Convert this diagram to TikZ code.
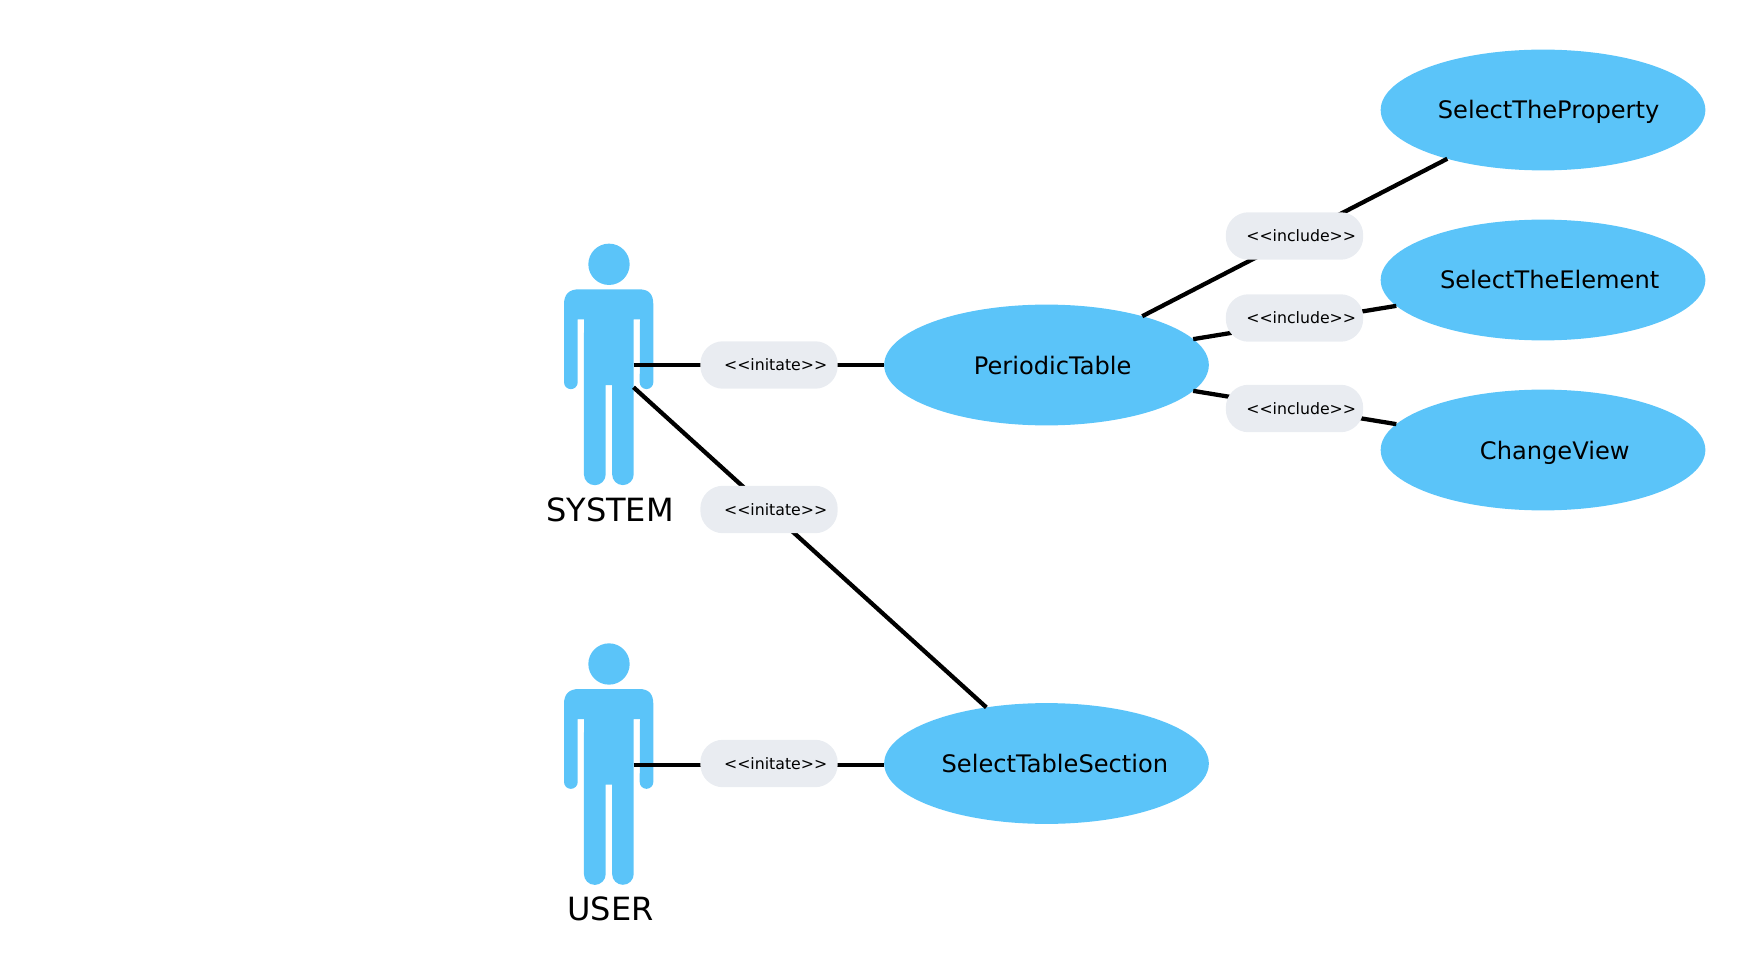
\documentclass[tikz,border=0pt]{standalone}
\usepackage{fontspec}
\setmainfont{DejaVu Sans}
\usetikzlibrary{shapes.geometric}
\definecolor{ublue}{HTML}{5BC4F9}
\definecolor{upill}{HTML}{E9ECF1}
\tikzset{
  usecase/.style={ellipse,fill=ublue,minimum width=243.5pt,minimum height=90.6pt,inner sep=0pt,outer sep=0pt},
  uctext/.style={anchor=base,inner sep=0pt,font=\fontsize{18.1}{20}\selectfont},
  pill/.style={rectangle,fill=upill,rounded corners=17pt,minimum width=103pt,minimum height=35.6pt,inner sep=0pt,outer sep=0pt,font=\fontsize{11.8}{13}\selectfont},
  conn/.style={line width=3.2pt,black},
  actorname/.style={font=\fontsize{24}{28}\selectfont,inner sep=0pt},
  actorfig/.pic={
    \fill[ublue] (0,0) circle[radius=15.5pt];
    \fill[ublue]
      (-30,25) -- (30,25)
      .. controls (40,25) and (44.3,30) .. (44.3,40)
      -- (44.3,118) arc[start angle=0,end angle=-180,x radius=6.8,y radius=-6.8]
      -- (31,55) -- (24.7,55) -- (24.7,210)
      arc[start angle=0,end angle=-180,x radius=10.8,y radius=-10.8]
      -- (3,120.7) -- (-3.3,120.7) -- (-3.3,210)
      arc[start angle=0,end angle=-180,x radius=10.9,y radius=-10.9]
      -- (-25,55) -- (-31.3,55) -- (-31.3,118)
      arc[start angle=0,end angle=-180,x radius=6.85,y radius=-6.85]
      -- (-45,40) .. controls (-45,30) and (-40,25) .. (-30,25) -- cycle;
    \coordinate (-mid) at (24.5,101);
    \coordinate (-low) at (24.5,123);
  }
}
\begin{document}
\begin{tikzpicture}[x=0.75pt,y=-0.75pt]
\useasboundingbox (0,0) rectangle (1755,980);
\pic (sys) at (609,264.3) {actorfig};
\pic (usr) at (609,664) {actorfig};
\node[actorname] (sysname) at (610,510) {SYSTEM};
\node[actorname] (usrname) at (610.5,909) {USER};
\node[usecase] (pt) at (1046.5,365) {};
\node[usecase] (sts) at (1046.5,763.5) {};
\node[usecase] (prop) at (1543,110) {};
\node[usecase] (elem) at (1543,280) {};
\node[usecase] (view) at (1543,450) {};
\node[uctext] (ptt) at ([xshift=4.6pt,yshift=-6.75pt]pt.center) {PeriodicTable};
\node[uctext] (stst) at ([xshift=6.3pt,yshift=-6.75pt]sts.center) {SelectTableSection};
\node[uctext] (propt) at ([xshift=4.2pt,yshift=-6.75pt]prop.center) {SelectTheProperty};
\node[uctext] (elemt) at ([xshift=5pt,yshift=-6.75pt]elem.center) {SelectTheElement};
\node[uctext] (viewt) at ([xshift=8.8pt,yshift=-6.75pt]view.center) {ChangeView};
\draw[conn] (sys-mid) -- (sys-mid -| pt.180);
\draw[conn] (sys-low) -- (sts.137.7);
\draw[conn] (usr-mid) -- (usr-mid -| sts.180);
\draw[conn] (pt.27.4) -- (prop.207.2);
\draw[conn] (pt.10.6) -- (elem.190.5);
\draw[conn] (pt.-10.8) -- (view.170.5);
\node[pill] (l1) at (769,365) {\hspace*{10pt}\raisebox{0.5pt}{<{}<initate>{}>}};
\node[pill] (l2) at (769,509.5) {\hspace*{10pt}\raisebox{0.5pt}{<{}<initate>{}>}};
\node[pill] (l3) at (769,763.5) {\hspace*{10pt}\raisebox{0.5pt}{<{}<initate>{}>}};
\node[pill] (i1) at (1294.5,236) {\hspace*{10pt}<{}<include>{}>};
\node[pill] (i2) at (1294.5,318) {\hspace*{10pt}<{}<include>{}>};
\node[pill] (i3) at (1294.5,408.5) {\hspace*{10pt}\raisebox{0.5pt}{<{}<include>{}>}};
\end{tikzpicture}
\end{document}
